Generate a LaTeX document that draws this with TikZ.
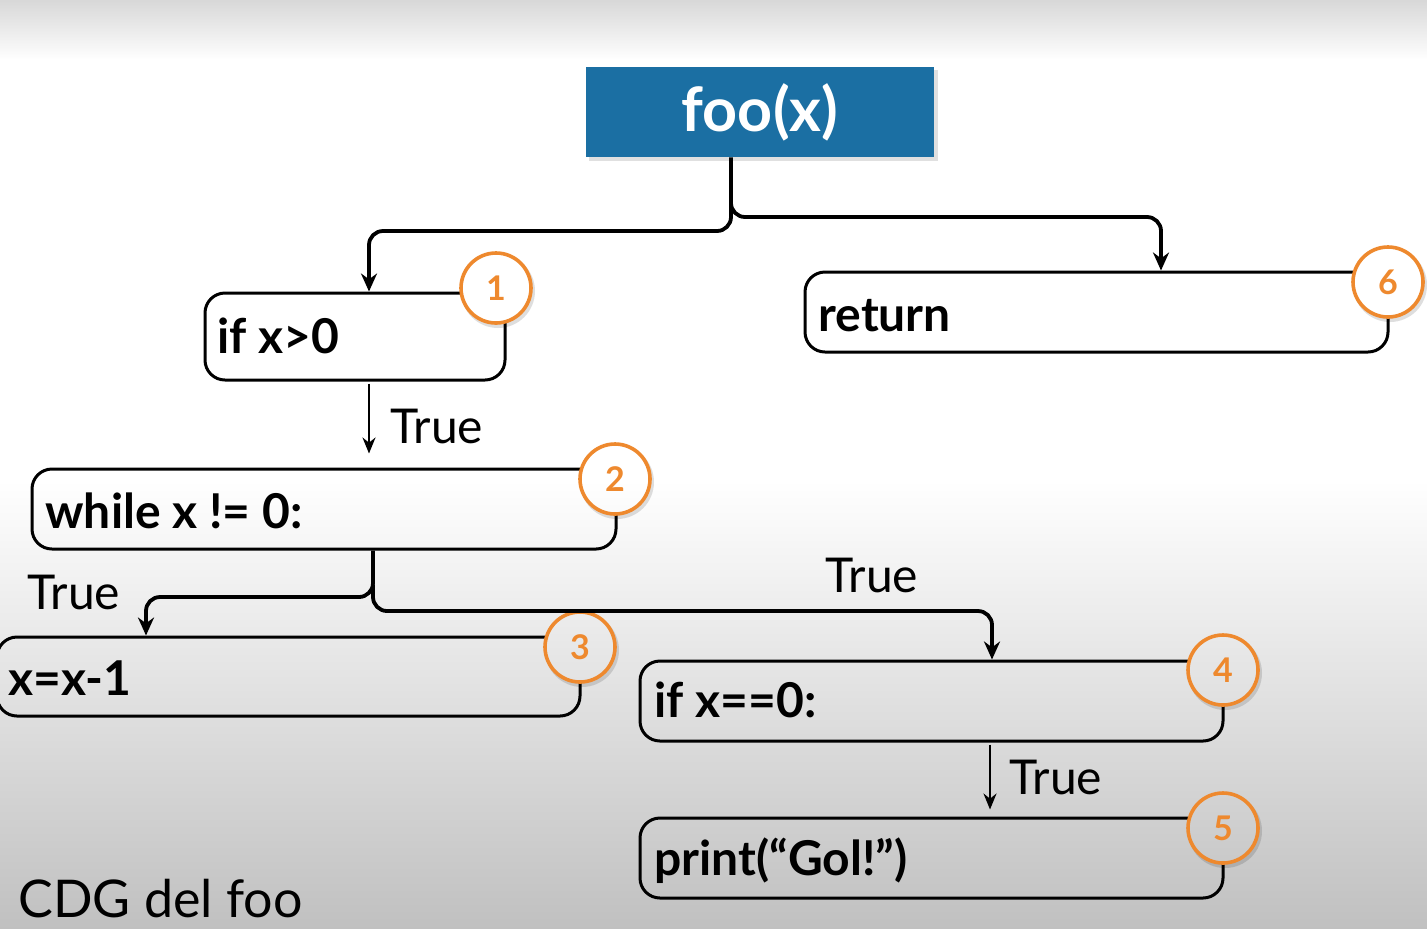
\documentclass[tikz,border=0pt]{standalone}
\usepackage{fontspec}
\setmainfont{Lato}
\usetikzlibrary{arrows.meta,fit,calc}
\definecolor{fooblue}{RGB}{27,111,163}
\definecolor{numor}{RGB}{238,137,46}
\definecolor{bgtop}{gray}{0.82}
\definecolor{bgbot}{gray}{0.75}
\newcommand{\bgpaint}{%
  \shade[top color=bgtop,bottom color=white] (-10,-10) rectangle (1437,60);
  \fill[white] (-10,59) rectangle (1437,481);
  \shade[top color=white,bottom color=bgbot] (-10,480) rectangle (1437,935);
}
\newcommand{\numcirc}[4]{%
  \fill[black,opacity=.13] (#2+2,#3+3) circle[radius=18.5pt];
  \begin{scope}\clip (#2,#3) circle[radius=17.5pt]; \bgpaint\end{scope}
  \node[num] (#1) at (#2,#3) {#4};
}
\tikzset{
  stmt/.style={draw=black, line width=1.5pt, rounded corners=10pt, inner sep=0pt},
  code/.style={font=\bfseries\fontsize{24}{28}\selectfont, inner sep=0pt, anchor=base west},
  lbl/.style={font=\fontsize{24}{28}\selectfont, inner sep=0pt, anchor=base west},
  num/.style={circle, draw=numor, line width=1.8pt, minimum size=35pt, inner sep=0pt,
    text=numor, font=\bfseries\fontsize{17}{20}\selectfont},
  conn/.style={line width=1.9pt, rounded corners=7pt, -{Stealth[length=9pt,width=8pt]}},
  tarr/.style={line width=1.1pt, -{Stealth[length=8pt,width=6.5pt]}},
}
\begin{document}
\begin{tikzpicture}[x=0.5pt,y=-0.5pt]
\useasboundingbox (0,0) rectangle (1427,928);
\bgpaint

% title box
\fill[black,opacity=.12] (589,70) rectangle (938,161);
\node[fill=fooblue, fit={(586,67) (934,157)}, inner sep=0pt] (foo) {};
\node[text=white, font=\bfseries\fontsize{30.5}{36}\selectfont, inner sep=0pt] (footxt) at (foo.center) {foo(x)};

% statement boxes
\node[stmt, fit={(205,293) (505,380)}] (b1) {};
\node[stmt, fit={(805,272) (1388,352)}] (b6) {};
\node[stmt, fit={(32,469) (616,549)}] (b2) {};
\node[stmt, fit={(-3,637) (580,716)}] (b3) {};
\node[stmt, fit={(640,661) (1223,741)}] (b4) {};
\node[stmt, fit={(640,818) (1223,898)}] (b5) {};

% numbered circles
\numcirc{c1}{496}{288}{1}
\numcirc{c6}{1388}{282}{6}
\numcirc{c2}{615}{479}{2}
\numcirc{c3}{580}{647}{3}
\numcirc{c4}{1223}{670}{4}
\numcirc{c5}{1223}{828}{5}

% box texts
\node[code] (t1) at (217,353) {if x>0};
\node[code] (t6) at (818,331) {return};
\node[code] (t2) at (45,528) {while x != 0:};
\node[code] (t3) at (8,695) {x=x-1};
\node[code] (t4) at (654,717) {if x==0:};
\node[code] (t5) at (654,875) {print(“Gol!”)};

% x positions
\coordinate (xf) at (731,0);
\coordinate (x1) at (369,0);
\coordinate (x6) at (1161,0);
\coordinate (x2) at (373,0);
\coordinate (x3) at (146,0);
\coordinate (x4) at (992,0);
\coordinate (x5) at (990,0);
\coordinate (j0) at (731,200);
\coordinate (j2) at (373,585);

% connectors
\draw[conn] (foo.south -| xf) -- (731,231) -- (369,231) -- (b1.north -| x1);
\draw[conn] (j0) -- (731,217) -- (1161,217) -- (b6.north -| x6);
\draw[conn] (b2.south -| x2) -- (373,597) -- (146,597) -- (b3.north -| x3);
\draw[conn] (j2) -- (373,611) -- (992,611) -- (b4.north -| x4);
\draw[tarr, shorten >=7pt, shorten <=1pt] (b1.south -| x1) -- (b2.north -| x1);
\draw[tarr, shorten >=3.5pt, shorten <=1pt] (b4.south -| x5) -- (b5.north -| x5);

% labels
\node[lbl] (l1) at (390,443) {True};
\node[lbl] (l2) at (27,609) {True};
\node[lbl] (l3) at (825,592) {True};
\node[lbl] (l4) at (1009,794) {True};
\node[lbl, font=\fontsize{26}{30}\selectfont, text depth=0pt] (cdg) at (18,917) {CDG del foo};
\end{tikzpicture}
\end{document}
